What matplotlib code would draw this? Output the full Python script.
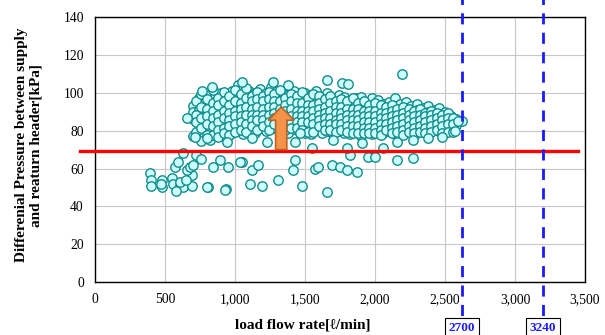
import matplotlib
matplotlib.use("Agg")
import matplotlib.pyplot as plt
from matplotlib.ticker import FuncFormatter
import matplotlib.transforms as mtransforms

serif = ['Liberation Serif', 'DejaVu Serif']

# main band, read column by column (flow -> list of pressures)
band_a_flow = [700, 740, 780, 820, 860, 900, 940, 980, 1020, 1060, 1100, 1140,
               1180, 1220, 1260, 1300, 1340, 1380, 1420, 1460, 1500, 1540, 1580,
               1620, 1660, 1700, 1740, 1780, 1820, 1860, 1900, 1940, 1980, 2020,
               2060, 2100, 2140, 2180, 2220, 2260, 2300, 2340, 2380, 2420, 2460,
               2500, 2540, 2580]
band_a_pressure = [
    [93, 86, 77, 90],
    [95, 91, 88, 83, 76, 97],
    [98, 94, 90, 86, 82, 78, 92],
    [101, 96, 93, 89, 85, 80, 75, 91],
    [99, 95, 92, 88, 84, 79, 90, 86],
    [100, 97, 93, 90, 87, 83, 78, 94],
    [98, 95, 91, 88, 85, 81, 76, 93],
    [101, 96, 92, 89, 86, 82, 79, 94],
    [104, 97, 94, 90, 87, 84, 80, 92],
    [99, 96, 93, 89, 86, 83, 78, 91],
    [101, 97, 94, 91, 88, 85, 81, 92],
    [100, 96, 93, 90, 87, 84, 79, 95],
    [102, 98, 95, 91, 88, 85, 82, 93],
    [100, 97, 94, 90, 87, 83, 80, 92],
    [103, 98, 95, 92, 89, 86, 82, 94],
    [101, 97, 94, 91, 88, 85, 81, 96],
    [100, 96, 93, 90, 87, 84, 80, 92],
    [99, 95, 92, 89, 86, 83, 79, 94],
    [101, 97, 93, 90, 87, 84, 81, 95],
    [98, 95, 92, 89, 86, 83, 80, 93],
    [100, 96, 93, 90, 87, 84, 79, 91],
    [99, 95, 92, 89, 86, 82, 78, 94],
    [101, 97, 93, 90, 87, 84, 81, 88],
    [98, 94, 91, 88, 85, 82, 79, 92],
    [100, 96, 92, 89, 86, 83, 80, 94],
    [97, 94, 91, 88, 85, 82, 78, 90],
    [99, 95, 92, 89, 86, 83, 80, 87],
    [98, 94, 91, 88, 85, 82, 79, 93],
    [96, 93, 90, 87, 84, 81, 78, 89],
    [97, 94, 91, 88, 85, 82, 80, 86],
    [98, 93, 90, 87, 84, 81, 77, 89],
    [95, 92, 89, 86, 83, 80, 88],
    [97, 93, 90, 87, 84, 81, 78],
    [96, 92, 89, 86, 83, 80, 88],
    [94, 91, 88, 85, 82, 79, 87],
    [95, 92, 89, 86, 83, 80],
    [97, 93, 90, 87, 84, 81, 78],
    [94, 91, 88, 85, 82, 86],
    [95, 92, 89, 86, 83, 80],
    [93, 90, 87, 84, 81, 88],
    [94, 91, 88, 85, 82, 79],
    [92, 89, 86, 83, 80, 87],
    [93, 90, 87, 84, 81],
    [91, 88, 85, 82, 86],
    [92, 89, 86, 83, 80],
    [90, 87, 84, 81],
    [88, 85, 82],
    [86, 83],
]

band_b_flow = [720, 760, 800, 840, 880, 920, 960, 1000, 1040, 1080, 1120, 1160,
               1200, 1240, 1280, 1320, 1360, 1400, 1440, 1480, 1520, 1560, 1600,
               1640, 1680, 1720, 1760, 1800, 1840, 1880, 1920, 1960, 2000, 2040,
               2080, 2120, 2160, 2200, 2240, 2280, 2320, 2360, 2400, 2440, 2480,
               2520, 2560]
band_b_pressure = [
    [95.5, 88.5, 84.5, 79.5],
    [99.5, 92.5, 86.5, 81.5, 74.5],
    [96.5, 91.5, 87.5, 83.5, 77.5],
    [101.5, 94.5, 90.5, 86.5, 82.5, 77.5],
    [97.5, 93.5, 88.5, 84.5, 80.5, 76.5],
    [100.5, 95.5, 90.5, 86.5, 81.5, 78.5],
    [98.5, 93.5, 89.5, 85.5, 82.5, 77.5],
    [101.5, 95.5, 90.5, 87.5, 83.5, 79.5],
    [99.5, 94.5, 91.5, 87.5, 84.5, 80.5],
    [102.5, 97.5, 92.5, 88.5, 83.5, 79.5],
    [98.5, 95.5, 91.5, 88.5, 85.5, 82.5],
    [100.5, 96.5, 92.5, 88.5, 85.5, 80.5],
    [98.5, 95.5, 91.5, 88.5, 85.5, 82.5],
    [100.5, 96.5, 92.5, 88.5, 84.5, 80.5],
    [99.5, 95.5, 92.5, 89.5, 86.5, 83.5],
    [101.5, 95.5, 91.5, 88.5, 85.5, 81.5],
    [97.5, 93.5, 90.5, 87.5, 84.5, 80.5],
    [99.5, 95.5, 91.5, 87.5, 84.5, 81.5],
    [98.5, 94.5, 90.5, 87.5, 84.5, 81.5],
    [100.5, 94.5, 90.5, 87.5, 84.5, 80.5],
    [97.5, 93.5, 90.5, 87.5, 84.5, 79.5],
    [99.5, 93.5, 90.5, 86.5, 83.5, 79.5],
    [98.5, 94.5, 91.5, 88.5, 85.5, 82.5],
    [96.5, 92.5, 89.5, 86.5, 83.5, 80.5],
    [98.5, 94.5, 90.5, 86.5, 83.5, 80.5],
    [95.5, 92.5, 89.5, 85.5, 83.5, 79.5],
    [96.5, 92.5, 89.5, 86.5, 83.5, 80.5],
    [95.5, 91.5, 88.5, 85.5, 82.5, 79.5],
    [97.5, 91.5, 88.5, 85.5, 82.5, 78.5],
    [94.5, 91.5, 88.5, 85.5, 82.5, 78.5],
    [95.5, 90.5, 87.5, 84.5, 81.5, 78.5],
    [93.5, 90.5, 87.5, 84.5, 81.5, 78.5],
    [94.5, 90.5, 87.5, 84.5, 81.5, 78.5],
    [93.5, 89.5, 86.5, 83.5, 80.5, 77.5],
    [92.5, 89.5, 86.5, 83.5, 80.5],
    [93.5, 90.5, 87.5, 84.5, 81.5, 78.5],
    [91.5, 88.5, 85.5, 82.5, 79.5],
    [92.5, 89.5, 86.5, 83.5, 80.5, 77.5],
    [91.5, 88.5, 85.5, 82.5, 79.5],
    [90.5, 87.5, 84.5, 81.5, 78.5],
    [91.5, 88.5, 85.5, 82.5, 79.5],
    [89.5, 87.5, 84.5, 81.5, 78.5],
    [90.5, 88.5, 85.5, 82.5, 79.5],
    [89.5, 86.5, 83.5, 80.5],
    [88.5, 85.5, 82.5, 78.5],
    [89.5, 86.5, 83.5, 79.5],
    [86.5, 83.5, 79.5],
]

# scattered points outside the band
other_flow = [393, 397, 397, 476, 476, 547, 557, 607, 628, 690, 690, 655, 571,
              593, 628, 678, 808, 935, 950, 893, 843, 1047, 470, 580, 610, 650,
              700, 720, 760, 797, 928, 1035, 1119, 1107, 1190, 1165, 1307, 1416,
              1476, 1428, 1571, 1593, 1655, 1690, 1750, 1797, 1868, 1821, 1950,
              2000, 2154, 2271, 797, 940, 1119, 1226, 1428, 1464, 1700, 1904,
              2057, 2154, 2271, 2378, 2476, 1547, 1797, 2190, 1655, 1272, 1378,
              1047, 1762, 1807, 655, 714, 833, 762, 2620, 2590, 2571]
other_pressure = [57.6, 53.9, 51, 54, 50, 55, 52, 51, 50, 51, 56.5, 59, 61,
                  63.5, 68, 61, 50, 49, 61, 64.5, 61, 63.5, 52, 48, 53, 54,
                  62, 67, 65, 50, 48.6, 63.5, 59, 52, 51, 62, 54, 59,
                  51, 64.5, 60, 61, 47.7, 62, 61, 59, 58, 67, 66,
                  66, 64.5, 65.5, 76, 74, 76, 74, 74, 78.6, 75, 73.4,
                  71, 74, 75, 76, 76.8, 71, 71, 110, 106.7, 105.8, 104,
                  105.8, 105, 104.6, 86.6, 76.8, 103, 101, 85, 85, 80]

threshold = 69
limit_pos = [2620, 3200]
limit_labels = ['2700', '3240']

flow = []
pressure = []
for fx, ys in list(zip(band_a_flow, band_a_pressure)) + list(zip(band_b_flow, band_b_pressure)):
    for yv in ys:
        flow.append(fx)
        pressure.append(yv)
flow += other_flow
pressure += other_pressure

fig = plt.figure(figsize=(6.05, 3.35), dpi=100)
ax = fig.add_axes([0.157, 0.158, 0.81, 0.791])

ax.scatter(flow, pressure, s=46, facecolor='#ccffff', edgecolor='#138c8c',
           linewidth=1.0, zorder=3)

ax.set_xlim(0, 3500)
ax.set_ylim(0, 140)
ax.set_xticks(range(0, 3501, 500))
ax.set_yticks(range(0, 141, 20))
ax.xaxis.set_major_formatter(FuncFormatter(lambda v, p: f'{int(v):,}'))
ax.grid(True, color='#c8c8c8', linewidth=0.8, zorder=0)
ax.tick_params(length=0, labelsize=9.8, pad=8)
for lab in ax.get_xticklabels() + ax.get_yticklabels():
    lab.set_family(serif)
for sp in ax.spines.values():
    sp.set_color('black')
    sp.set_linewidth(1.0)

ax.set_xlabel('load flow rate[ℓ/min]', family=serif, fontweight='bold',
              fontsize=11)
ax.xaxis.set_label_coords(0.424, -0.162)
ax.xaxis.label.set_va('center')
ax.set_ylabel('Differenial Pressure between supply\nand reaturn header[kPa]',
              family=serif, fontweight='bold', fontsize=11, linespacing=1.15)
ax.yaxis.set_label_coords(-0.135, 0.517)
ax.yaxis.label.set_va('center')

# red threshold line, runs a bit past the left axis
trans = mtransforms.blended_transform_factory(ax.transAxes, ax.transData)
ax.plot([-0.031, 0.986], [threshold, threshold], color='#ff0000',
        linewidth=2.4, transform=trans, clip_on=False, zorder=4)

# orange arrow
ax.arrow(1330, 70, 0, 15.5, width=80, head_width=185, head_length=7,
         facecolor='#f59448', edgecolor='#b5652b', linewidth=1.2, zorder=5)

# blue dashed limit lines with boxed labels
for xp, lab in zip(limit_pos, limit_labels):
    ax.axvline(xp, ymin=-0.2, ymax=1.07, color='#1a1aff', linewidth=2.0,
               linestyle=(0, (4, 3)), clip_on=False, zorder=4)
    ax.text(xp, -0.175, lab, transform=mtransforms.blended_transform_factory(
                ax.transData, ax.transAxes),
            ha='center', va='center', color='#1a1aff', family=serif,
            fontweight='bold', fontsize=9.5, zorder=6,
            bbox=dict(boxstyle='square,pad=0.3', facecolor='white',
                      edgecolor='black', linewidth=0.8))

fig.savefig('out.png', dpi=100)
